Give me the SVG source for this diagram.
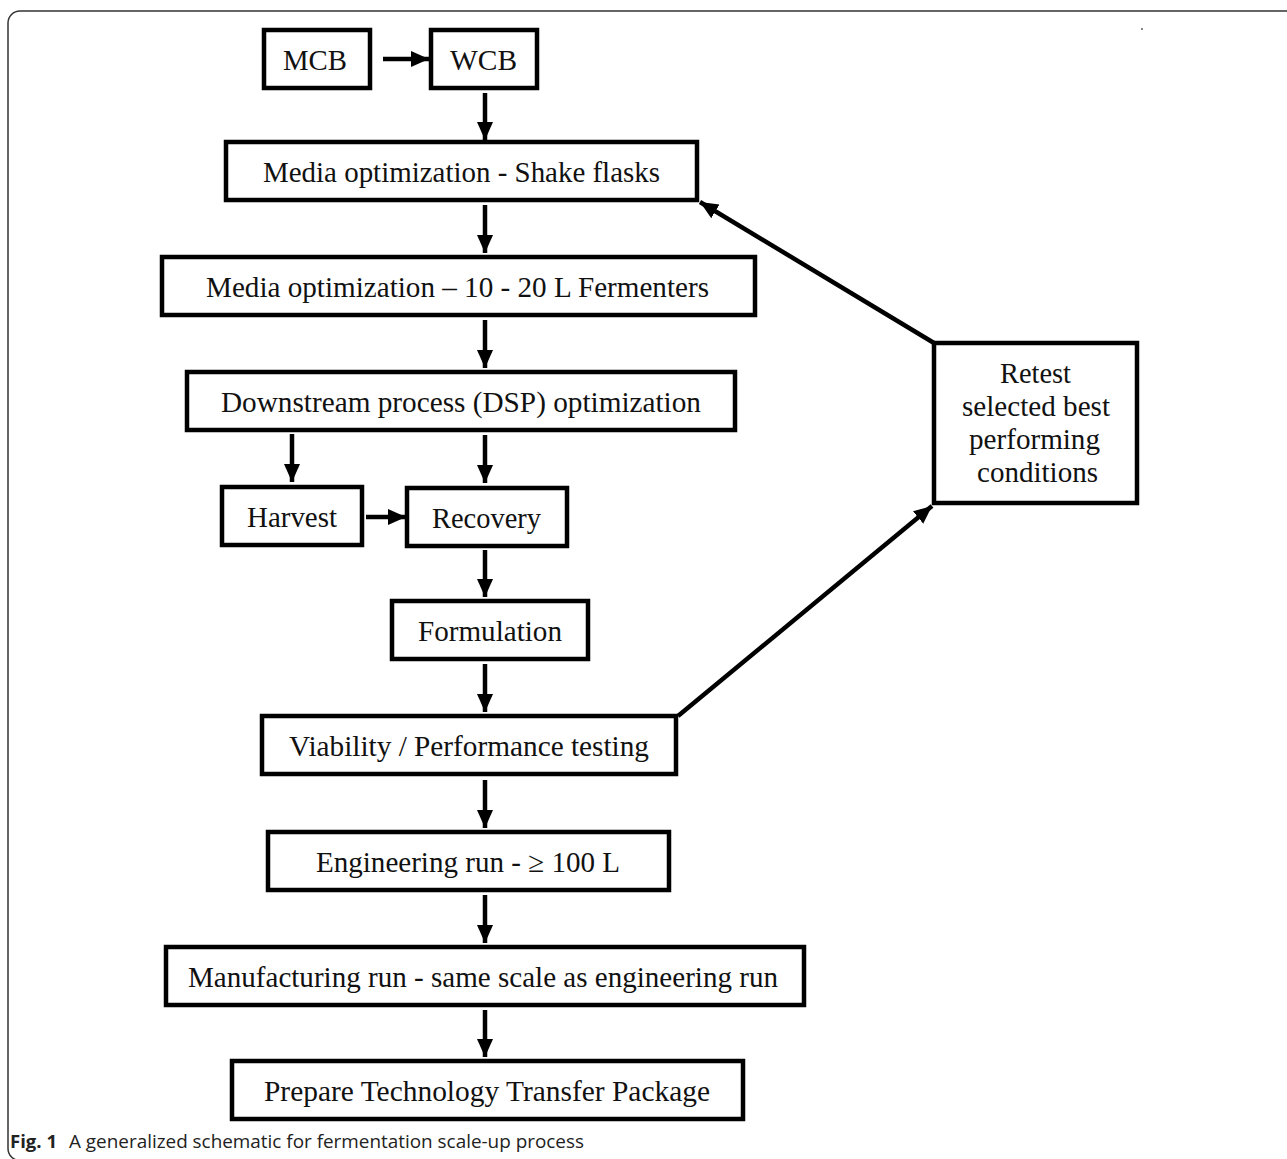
<svg xmlns="http://www.w3.org/2000/svg" width="1287" height="1159" viewBox="0 0 1287 1159">
<style>
.box{fill:#fff;stroke:#000;stroke-width:4.5}
.t{font-family:"Liberation Serif","Times New Roman",serif;font-size:29px;fill:#111;text-anchor:middle}
.c{stroke:#000;stroke-width:4.5;fill:none;marker-end:url(#ah)}
.cap{font-family:"Open Sans","Noto Sans",Arial,sans-serif;font-size:18px;fill:#222}
</style>
<defs>
<marker id="ah" markerUnits="userSpaceOnUse" markerWidth="20" markerHeight="20" viewBox="0 0 20 20" refX="18" refY="10" orient="auto">
<path d="M0,2 L18,10 L0,18 Z" fill="#000"/>
</marker>
</defs>
<rect width="1287" height="1159" fill="#fff"/>
<path d="M1290,1160.5 H20 A12,12 0 0 1 8,1148.5 V23 A12,12 0 0 1 20,11 H1290" fill="none" stroke="#333" stroke-width="1.5"/>
<rect x="1141" y="28" width="2" height="2" fill="#888"/>

<g id="mcb"><rect class="box" x="264" y="30" width="106" height="58"/><text class="t" x="315" y="70" textLength="64" lengthAdjust="spacingAndGlyphs">MCB</text></g>
<g id="wcb"><rect class="box" x="431" y="30" width="106" height="58"/><text class="t" x="483.5" y="70" textLength="67" lengthAdjust="spacingAndGlyphs">WCB</text></g>
<g id="shake"><rect class="box" x="226" y="142" width="471" height="58"/><text class="t" x="461.5" y="182" textLength="397" lengthAdjust="spacingAndGlyphs">Media optimization - Shake flasks</text></g>
<g id="ferm"><rect class="box" x="162" y="257" width="593" height="58"/><text class="t" x="457.5" y="297" textLength="503" lengthAdjust="spacingAndGlyphs">Media optimization – 10 - 20 L Fermenters</text></g>
<g id="dsp"><rect class="box" x="187" y="372" width="548" height="58"/><text class="t" x="461" y="412" textLength="480" lengthAdjust="spacingAndGlyphs">Downstream process (DSP) optimization</text></g>
<g id="harvest"><rect class="box" x="222" y="487" width="140" height="58"/><text class="t" x="292" y="527" textLength="90" lengthAdjust="spacingAndGlyphs">Harvest</text></g>
<g id="recovery"><rect class="box" x="407" y="488" width="160" height="58"/><text class="t" x="486.5" y="528" textLength="109" lengthAdjust="spacingAndGlyphs">Recovery</text></g>
<g id="formulation"><rect class="box" x="392" y="601" width="196" height="58"/><text class="t" x="490" y="641" textLength="144" lengthAdjust="spacingAndGlyphs">Formulation</text></g>
<g id="viability"><rect class="box" x="262" y="716" width="414" height="58"/><text class="t" x="469" y="756" textLength="360" lengthAdjust="spacingAndGlyphs">Viability / Performance testing</text></g>
<g id="engineering"><rect class="box" x="268" y="832" width="401" height="58"/><text class="t" x="468" y="872" textLength="304" lengthAdjust="spacingAndGlyphs">Engineering run - ≥ 100 L</text></g>
<g id="manufacturing"><rect class="box" x="166" y="947" width="638" height="58"/><text class="t" x="483" y="987" textLength="590" lengthAdjust="spacingAndGlyphs">Manufacturing run - same scale as engineering run</text></g>
<g id="prepare"><rect class="box" x="232" y="1061" width="511" height="58"/><text class="t" x="487" y="1101" textLength="446" lengthAdjust="spacingAndGlyphs">Prepare Technology Transfer Package</text></g>
<g id="retest"><rect class="box" x="934" y="343" width="203" height="160"/>
<text class="t" x="1035.5" y="383" textLength="71" lengthAdjust="spacingAndGlyphs">Retest</text>
<text class="t" x="1036" y="416" textLength="148" lengthAdjust="spacingAndGlyphs">selected best</text>
<text class="t" x="1034.5" y="449" textLength="131" lengthAdjust="spacingAndGlyphs">performing</text>
<text class="t" x="1037.5" y="482" textLength="121" lengthAdjust="spacingAndGlyphs">conditions</text></g>

<g id="connectors">
<line class="c" x1="383" y1="59" x2="429" y2="59"/>
<line class="c" x1="485" y1="93" x2="485" y2="140"/>
<line class="c" x1="485" y1="205" x2="485" y2="253"/>
<line class="c" x1="485" y1="320" x2="485" y2="368"/>
<line class="c" x1="292" y1="434" x2="292" y2="482"/>
<line class="c" x1="485" y1="435" x2="485" y2="483"/>
<line class="c" x1="366" y1="517" x2="406" y2="517"/>
<line class="c" x1="485" y1="550" x2="485" y2="597"/>
<line class="c" x1="485" y1="664" x2="485" y2="712"/>
<line class="c" x1="485" y1="780" x2="485" y2="828"/>
<line class="c" x1="485" y1="895" x2="485" y2="943"/>
<line class="c" x1="485" y1="1010" x2="485" y2="1057"/>
<line class="c" x1="934" y1="343" x2="700" y2="202"/>
<line class="c" x1="678" y1="716" x2="932" y2="506"/>
</g>

<text class="cap" y="1148"><tspan x="10" font-weight="bold" textLength="47" lengthAdjust="spacingAndGlyphs">Fig. 1</tspan><tspan x="69" textLength="515" lengthAdjust="spacingAndGlyphs">A generalized schematic for fermentation scale-up process</tspan></text>
</svg>
